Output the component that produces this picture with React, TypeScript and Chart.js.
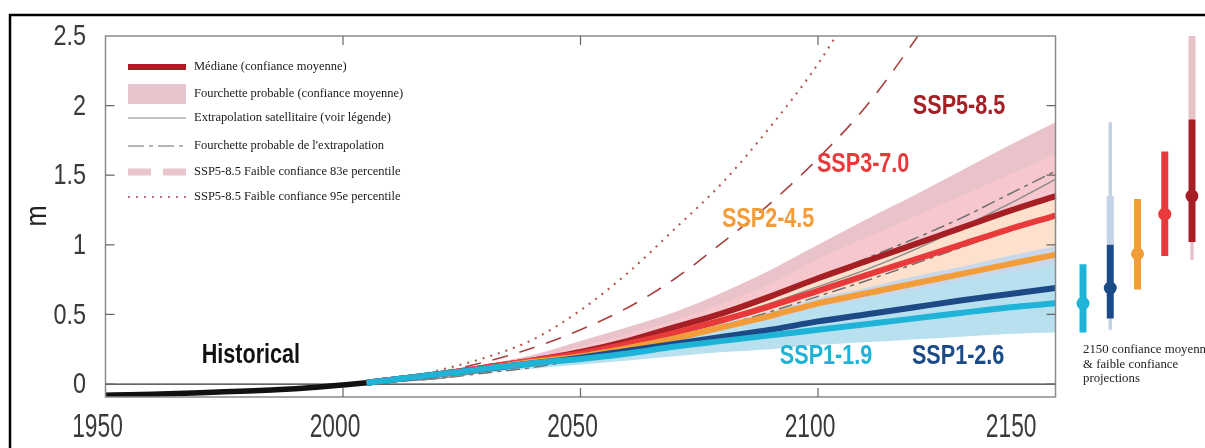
import React, { useEffect, useRef } from 'react';
import { Chart, registerables } from 'chart.js';

Chart.register(...registerables);

// ---------- data ----------
const histYears = [1950, 1955, 1960, 1965, 1970, 1975, 1980, 1985, 1990, 1995, 2000, 2005];
const histValues = [-0.08, -0.077, -0.073, -0.068, -0.062, -0.056, -0.05, -0.042, -0.033, -0.021, -0.006, 0.01];

const projYears = [2005, 2020, 2030, 2040, 2050, 2060, 2070, 2080, 2090, 2100, 2110, 2120, 2130, 2140, 2150];
const ssp119Median = [0.01, 0.07, 0.11, 0.15, 0.18, 0.22, 0.27, 0.31, 0.35, 0.39, 0.43, 0.47, 0.51, 0.55, 0.58];
const ssp126Median = [0.01, 0.07, 0.11, 0.15, 0.19, 0.24, 0.29, 0.34, 0.39, 0.45, 0.5, 0.55, 0.6, 0.645, 0.69];
const ssp245Median = [0.01, 0.07, 0.11, 0.16, 0.2, 0.26, 0.33, 0.41, 0.49, 0.58, 0.65, 0.72, 0.79, 0.86, 0.93];
const ssp370Median = [0.01, 0.07, 0.12, 0.17, 0.22, 0.29, 0.37, 0.46, 0.56, 0.67, 0.78, 0.89, 1.0, 1.11, 1.21];
const ssp585Median = [0.01, 0.07, 0.12, 0.17, 0.23, 0.31, 0.41, 0.51, 0.63, 0.76, 0.88, 1.0, 1.12, 1.24, 1.35];

const ssp119Low = [0.0, 0.05, 0.08, 0.11, 0.14, 0.17, 0.2, 0.23, 0.25, 0.28, 0.3, 0.32, 0.34, 0.36, 0.37];
const ssp119High = [0.01, 0.07, 0.11, 0.16, 0.21, 0.27, 0.33, 0.39, 0.46, 0.55, 0.61, 0.67, 0.74, 0.8, 0.86];
const ssp126Low = [0.0, 0.05, 0.08, 0.12, 0.16, 0.19, 0.23, 0.26, 0.29, 0.32, 0.35, 0.38, 0.41, 0.44, 0.46];
const ssp126High = [0.01, 0.07, 0.12, 0.17, 0.24, 0.3, 0.37, 0.44, 0.52, 0.62, 0.69, 0.77, 0.84, 0.92, 0.99];
const ssp245Low = [0.0, 0.06, 0.09, 0.13, 0.17, 0.21, 0.26, 0.31, 0.37, 0.44, 0.48, 0.53, 0.58, 0.62, 0.66];
const ssp245High = [0.01, 0.08, 0.13, 0.18, 0.25, 0.32, 0.41, 0.5, 0.61, 0.76, 0.87, 0.98, 1.1, 1.22, 1.33];
const ssp370Low = [0.0, 0.06, 0.1, 0.14, 0.18, 0.23, 0.3, 0.37, 0.45, 0.55, 0.63, 0.71, 0.78, 0.85, 0.92];
const ssp370High = [0.01, 0.08, 0.13, 0.19, 0.27, 0.36, 0.46, 0.58, 0.72, 0.9, 1.05, 1.2, 1.35, 1.5, 1.65];
const ssp585Low = [0.0, 0.06, 0.1, 0.14, 0.19, 0.25, 0.32, 0.4, 0.5, 0.62, 0.69, 0.77, 0.85, 0.92, 0.98];
const ssp585High = [0.01, 0.08, 0.14, 0.21, 0.31, 0.41, 0.52, 0.66, 0.82, 1.0, 1.18, 1.35, 1.53, 1.71, 1.88];

const satExtrap = [0.01, 0.04, 0.09, 0.14, 0.2, 0.28, 0.37, 0.47, 0.58, 0.7, 0.82, 0.96, 1.12, 1.29, 1.47];
const satExtrapHigh = [0.01, 0.05, 0.1, 0.16, 0.23, 0.31, 0.4, 0.51, 0.63, 0.76, 0.9, 1.04, 1.19, 1.36, 1.53];
const satExtrapLow = [0.01, 0.04, 0.08, 0.12, 0.18, 0.25, 0.33, 0.42, 0.52, 0.63, 0.74, 0.86, 0.98, 1.1, 1.22];

const p83Years = [2020, 2030, 2040, 2050, 2060, 2070, 2080, 2090, 2100, 2110, 2120, 2130];
const p83Values = [0.08, 0.16, 0.26, 0.39, 0.55, 0.76, 1.02, 1.3, 1.62, 1.99, 2.45, 2.95];
const p95Years = [2018, 2030, 2040, 2050, 2060, 2070, 2080, 2090, 2100, 2110];
const p95Values = [0.08, 0.19, 0.32, 0.53, 0.8, 1.12, 1.45, 1.85, 2.3, 2.85];

const sideScenarios = ['SSP1-1.9', 'SSP1-2.6', 'SSP2-4.5', 'SSP3-7.0', 'SSP5-8.5'];
const side2150Median = [0.58, 0.69, 0.935, 1.22, 1.35];
const side2150LikelyLow = [0.37, 0.47, 0.68, 0.92, 1.02];
const side2150LikelyHigh = [0.86, 1.0, 1.33, 1.67, 1.9];
const side2150LowConfLow = [null, 0.39, null, null, 0.89];
const side2150LowConfHigh = [null, 1.88, null, null, 2.5];
const side2150LowConf83High = [null, 1.35, null, null, 2.5];

const xTickValues = [1950, 2000, 2050, 2100, 2150];
const yTickValues = [0, 0.5, 1, 1.5, 2, 2.5];

// ---------- styles ----------
const COL = {
  ssp119: '#1fb3d7',
  ssp126: '#1c4a87',
  ssp245: '#f39d3a',
  ssp370: '#e8393b',
  ssp585: '#a51f24',
  band119: '#b8e0ef',
  band126: '#c8d8ea',
  band245: '#fde1cd',
  band370: '#f6c7cd',
  band585: '#e9c2ca',
  faint126: '#c4d3e6',
  faint585: '#e6c3c9',
};

const SANS = '"Liberation Sans", Arial, sans-serif';
const SERIF = '"Liberation Serif", "Times New Roman", serif';

const zip = (xs: number[], ys: number[]) => xs.map((x, i) => ({ x, y: ys[i] }));

function txt(ctx: CanvasRenderingContext2D, s: string, x: number, y: number, font: string, color: string, align: CanvasTextAlign, sx = 1) {
  ctx.save();
  ctx.translate(x, y);
  ctx.scale(sx, 1);
  ctx.font = font;
  ctx.fillStyle = color;
  ctx.textAlign = align;
  ctx.textBaseline = 'middle';
  ctx.fillText(s, 0, 0);
  ctx.restore();
}

const plotLabels = [
  { text: 'SSP5-8.5', year: 2129.7, value: 1.99, color: COL.ssp585 },
  { text: 'SSP3-7.0', year: 2109.5, value: 1.58, color: COL.ssp370 },
  { text: 'SSP2-4.5', year: 2089.5, value: 1.185, color: COL.ssp245 },
  { text: 'SSP1-1.9', year: 2101.7, value: 0.194, color: COL.ssp119 },
  { text: 'SSP1-2.6', year: 2129.5, value: 0.194, color: COL.ssp126 },
  { text: 'Historical', year: 1980.6, value: 0.208, color: '#111' },
];

const legendItems = [
  'Médiane (confiance moyenne)',
  'Fourchette probable (confiance moyenne)',
  'Extrapolation satellitaire (voir légende)',
  "Fourchette probable de l'extrapolation",
  'SSP5-8.5 Faible confiance 83e percentile',
  'SSP5-8.5 Faible confiance 95e percentile',
];

const decorPlugin = {
  id: 'decor',
  beforeDraw(chart: any) {
    const ctx = chart.ctx as CanvasRenderingContext2D;
    ctx.save();
    ctx.fillStyle = '#fff';
    ctx.fillRect(0, 0, chart.width, chart.height);
    ctx.strokeStyle = '#000';
    ctx.lineWidth = 2.5;
    ctx.beginPath();
    ctx.moveTo(10, chart.height);
    ctx.lineTo(10, 15);
    ctx.lineTo(chart.width, 15);
    ctx.stroke();
    ctx.restore();
  },
  beforeDatasetsDraw(chart: any) {
    const ctx = chart.ctx as CanvasRenderingContext2D;
    const x = chart.scales.x, y = chart.scales.y;
    ctx.save();
    ctx.strokeStyle = '#333';
    ctx.lineWidth = 1.2;
    ctx.beginPath();
    ctx.moveTo(x.getPixelForValue(1950), y.getPixelForValue(0));
    ctx.lineTo(x.getPixelForValue(2150), y.getPixelForValue(0));
    ctx.stroke();
    ctx.restore();
  },
  afterDatasetsDraw(chart: any) {
    const ctx = chart.ctx as CanvasRenderingContext2D;
    const x = chart.scales.x, y = chart.scales.y, xs = chart.scales.xs;
    const L = x.getPixelForValue(1950), R = x.getPixelForValue(2150);
    const T = y.getPixelForValue(2.5), B = chart.chartArea.bottom;
    ctx.save();
    ctx.strokeStyle = '#8a8a8a';
    ctx.lineWidth = 1.5;
    ctx.strokeRect(L, T, R - L, B - T);
    ctx.strokeStyle = '#666';
    ctx.lineWidth = 1.2;
    ctx.beginPath();
    yTickValues.forEach((v) => {
      if (v >= 2.5) return;
      const py = y.getPixelForValue(v);
      ctx.moveTo(L, py); ctx.lineTo(L + 9, py);
      ctx.moveTo(R, py); ctx.lineTo(R - 9, py);
    });
    xTickValues.forEach((v) => {
      if (v === 1950 || v === 2150) return;
      const px = x.getPixelForValue(v);
      ctx.moveTo(px, B); ctx.lineTo(px, B - 9);
      ctx.moveTo(px, T); ctx.lineTo(px, T + 9);
    });
    ctx.stroke();
    ctx.restore();

    yTickValues.forEach((v) => {
      txt(ctx, String(v), 86, y.getPixelForValue(v) + 1, `30px ${SANS}`, '#3a3a3a', 'right', 0.78);
    });
    xTickValues.forEach((v, i) => {
      const px = x.getPixelForValue(v);
      if (i === xTickValues.length - 1) {
        txt(ctx, String(v), px - 19, 428, `34px ${SANS}`, '#3a3a3a', 'right', 0.67);
      } else {
        txt(ctx, String(v), px - 8, 428, `34px ${SANS}`, '#3a3a3a', 'center', 0.67);
      }
    });
    ctx.save();
    ctx.translate(38, 216);
    ctx.rotate(-Math.PI / 2);
    txt(ctx, 'm', 0, 0, `30px ${SANS}`, '#222', 'center', 0.85);
    ctx.restore();

    plotLabels.forEach((l) => {
      txt(ctx, l.text, x.getPixelForValue(l.year), y.getPixelForValue(l.value), `bold 27px ${SANS}`, l.color, 'center', 0.8);
    });

    const x0 = 128, x1 = 186, tx = 194;
    const rows = [67, 94, 118, 146, 172, 197];
    ctx.save();
    ctx.fillStyle = COL.ssp585;
    ctx.fillRect(x0, rows[0] - 3, x1 - x0, 6);
    ctx.fillStyle = '#e8c5cc';
    ctx.fillRect(x0, rows[1] - 10, x1 - x0, 20);
    ctx.strokeStyle = '#8a8a8a';
    ctx.lineWidth = 1.2;
    ctx.beginPath(); ctx.moveTo(x0, rows[2]); ctx.lineTo(x1, rows[2]); ctx.stroke();
    ctx.strokeStyle = '#6a6a6a';
    ctx.setLineDash([16, 5, 4, 5]);
    ctx.beginPath(); ctx.moveTo(x0, rows[3]); ctx.lineTo(x1, rows[3]); ctx.stroke();
    ctx.setLineDash([]);
    ctx.fillStyle = '#e8c6cb';
    ctx.fillRect(x0, rows[4] - 3.5, 23, 7);
    ctx.fillRect(x1 - 23, rows[4] - 3.5, 23, 7);
    ctx.fillStyle = '#b04a4a';
    for (let px = x0 + 1; px <= x1; px += 8) {
      ctx.beginPath(); ctx.arc(px, rows[5], 1, 0, Math.PI * 2); ctx.fill();
    }
    ctx.restore();
    legendItems.forEach((s, i) => txt(ctx, s, tx, rows[i], `12.5px ${SERIF}`, '#1a1a1a', 'left', 1));

    const cx = xs.getPixelForValue(0);
    ['2150 confiance moyenne', '& faible confiance', 'projections'].forEach((s, i) => {
      txt(ctx, s, cx, 350 + i * 14.5, `12.8px ${SERIF}`, '#222', 'left', 1);
    });
  },
};

function band(high: number[], low: number[], color: string, order: number) {
  return [
    {
      data: zip(projYears, high), xAxisID: 'x', yAxisID: 'y', borderWidth: 0, borderColor: 'transparent',
      backgroundColor: color, fill: '+1', pointRadius: 0, cubicInterpolationMode: 'monotone', order,
    },
    {
      data: zip(projYears, low), xAxisID: 'x', yAxisID: 'y', borderWidth: 0, borderColor: 'transparent',
      fill: false, pointRadius: 0, cubicInterpolationMode: 'monotone', order,
    },
  ];
}

function median(vals: number[], color: string, order: number) {
  return {
    data: zip(projYears, vals), xAxisID: 'x', yAxisID: 'y', borderColor: color, borderWidth: 6,
    borderCapStyle: 'butt', fill: false, pointRadius: 0, cubicInterpolationMode: 'monotone', order,
  };
}

function vseg(i: number, lo: number | null, hi: number | null, color: string, width: number, order: number) {
  if (lo == null || hi == null) return null;
  return {
    data: [{ x: i, y: lo }, { x: i, y: hi }], xAxisID: 'xs', yAxisID: 'y', borderColor: color,
    borderWidth: width, borderCapStyle: 'butt', fill: false, pointRadius: 0, order,
  };
}

export default function App() {
  const canvasRef = useRef<HTMLCanvasElement | null>(null);

  useEffect(() => {
    if (!canvasRef.current) return;
    const sideColors = [COL.ssp119, COL.ssp126, COL.ssp245, COL.ssp370, COL.ssp585];
    const faint = [null, COL.faint126, null, null, COL.faint585];
    const datasets: any[] = [
      ...band(ssp585High, ssp585Low, COL.band585, 100),
      ...band(ssp370High, ssp370Low, COL.band370, 99),
      ...band(ssp245High, ssp245Low, COL.band245, 98),
      ...band(ssp126High, ssp126Low, COL.band126, 97),
      ...band(ssp119High, ssp119Low, COL.band119, 96),
      {
        data: zip(projYears, satExtrap), xAxisID: 'x', yAxisID: 'y', borderColor: '#8a8a8a', borderWidth: 1.5,
        fill: false, pointRadius: 0, cubicInterpolationMode: 'monotone', order: 90,
      },
      {
        data: zip(projYears, satExtrapHigh), xAxisID: 'x', yAxisID: 'y', borderColor: '#6f6f6f', borderWidth: 1.5,
        borderDash: [14, 5, 4, 5], fill: false, pointRadius: 0, cubicInterpolationMode: 'monotone', order: 90,
      },
      {
        data: zip(projYears, satExtrapLow), xAxisID: 'x', yAxisID: 'y', borderColor: '#6f6f6f', borderWidth: 1.5,
        borderDash: [14, 5, 4, 5], fill: false, pointRadius: 0, cubicInterpolationMode: 'monotone', order: 90,
      },
      {
        data: zip(p83Years, p83Values), xAxisID: 'x', yAxisID: 'y', borderColor: '#a9413f', borderWidth: 1.6,
        borderDash: [16, 12], fill: false, pointRadius: 0, cubicInterpolationMode: 'monotone', order: 85,
      },
      {
        data: zip(p95Years, p95Values), xAxisID: 'x', yAxisID: 'y', borderColor: '#b5504d', borderWidth: 2,
        borderDash: [2, 6], fill: false, pointRadius: 0, cubicInterpolationMode: 'monotone', order: 85,
      },
      {
        data: zip(histYears, histValues), xAxisID: 'x', yAxisID: 'y', borderColor: '#111', borderWidth: 5.5,
        fill: false, pointRadius: 0, cubicInterpolationMode: 'monotone', order: 80,
      },
      median(ssp585Median, COL.ssp585, 75),
      median(ssp370Median, COL.ssp370, 74),
      median(ssp245Median, COL.ssp245, 73),
      median(ssp126Median, COL.ssp126, 72),
      median(ssp119Median, COL.ssp119, 71),
    ];
    sideScenarios.forEach((_, i) => {
      const f = faint[i];
      if (f) {
        const a = vseg(i, side2150LowConfLow[i], side2150LowConfHigh[i], f, 3.5, 30);
        const b = vseg(i, side2150LikelyHigh[i], side2150LowConf83High[i], f, 7, 29);
        if (a) datasets.push(a);
        if (b) datasets.push(b);
      }
      const c = vseg(i, side2150LikelyLow[i], side2150LikelyHigh[i], sideColors[i], 7, 20);
      if (c) datasets.push(c);
      datasets.push({
        data: [{ x: i, y: side2150Median[i] }], xAxisID: 'xs', yAxisID: 'y', showLine: false,
        pointRadius: 6.5, pointBackgroundColor: sideColors[i], pointBorderWidth: 0, order: 10,
      });
    });

    const chart = new Chart(canvasRef.current, {
      type: 'line',
      data: { datasets },
      options: {
        responsive: false,
        devicePixelRatio: 1,
        animation: false,
        events: [],
        layout: { padding: { left: 105.5, right: 0, top: 36, bottom: 51 } },
        plugins: { legend: { display: false }, tooltip: { enabled: false } },
        scales: {
          x: { type: 'linear', min: 1950, max: 2180.1, display: false },
          xs: { type: 'linear', min: -35.87, max: 4.238, display: false },
          y: { type: 'linear', min: -0.093, max: 2.5, display: false },
        },
      } as any,
      plugins: [decorPlugin as any],
    });
    return () => chart.destroy();
  }, []);

  return (
    <div style={{ position: 'absolute', left: 0, top: 0, width: 1205, height: 448 }}>
      <canvas ref={canvasRef} width={1205} height={448} style={{ display: 'block' }} />
    </div>
  );
}
